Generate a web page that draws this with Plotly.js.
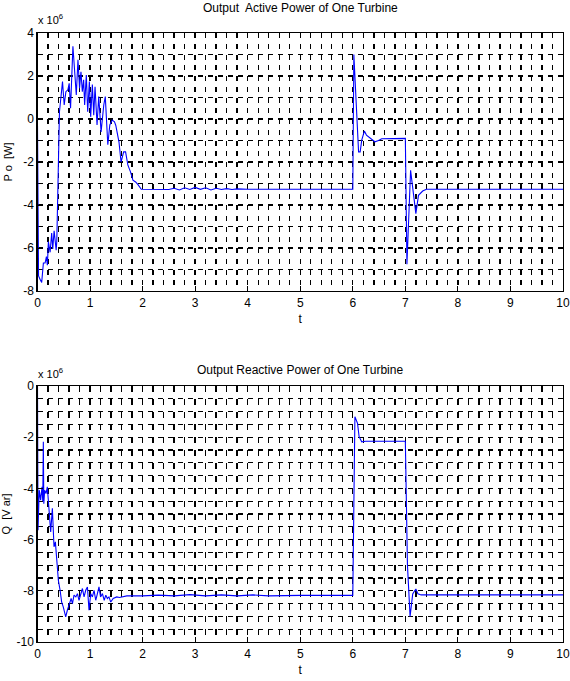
<!DOCTYPE html>
<html>
<head>
<meta charset="utf-8">
<script src="https://cdn.plot.ly/plotly-3.0.1.min.js"></script>
<style>html,body{margin:0;padding:0;background:#fff;}#chart{width:570px;height:681px;}</style>
</head>
<body>
<div id="chart"></div>
<script>
// Values are in units of 10^6 (axis multiplier "x 10^6")
var tP = [0, 0.02, 0.048, 0.08, 0.112, 0.144, 0.17, 0.188, 0.207, 0.24, 0.27, 0.29, 0.316, 0.34, 0.355, 0.367, 0.418, 0.476, 0.508, 0.54, 0.578, 0.603, 0.629, 0.674, 0.706, 0.738, 0.77, 0.8, 0.827, 0.853, 0.878, 0.897, 0.929, 0.955, 0.987, 1.012, 1.044, 1.07, 1.095, 1.133, 1.165, 1.21, 1.261, 1.29, 1.338, 1.376, 1.421, 1.465, 1.49, 1.55, 1.59, 1.64, 1.676, 1.72, 1.77, 1.816, 1.867, 1.912, 1.975, 2.2, 2.35, 2.5, 2.6, 2.7, 2.8, 2.9, 3.0, 3.1, 3.2, 3.3, 3.4, 3.5, 3.6, 3.7, 3.8, 4.0, 6.0, 6.02, 6.11, 6.14, 6.17, 6.22, 6.26, 6.33, 6.42, 6.49, 6.55, 7.0, 7.01, 7.03, 7.1, 7.2, 7.25, 7.33, 7.4, 10];
var pOut = [-0.3, -7.3, -7.45, -7.6, -6.7, -6.7, -6.4, -6.8, -5.7, -6.2, -5.3, -6.05, -5.2, -5.8, -6.1, -5.7, 0.34, 1.74, 0.65, 1.27, 1.35, 1.66, 0.5, 3.38, 2.05, 1.12, 2.75, 1.43, 2.2, 1.27, 1.82, 0.65, 2.05, 0.34, 1.74, 0.1, 1.6, 0.18, 1.5, -0.28, 1.04, -0.6, 0.65, 1.04, -1.2, -0.28, -0.05, -0.13, -0.3, -1.06, -2.0, -1.53, -1.53, -2.15, -2.46, -2.85, -2.93, -3.05, -3.27, -3.27, -3.25, -3.28, -3.22, -3.3, -3.2, -3.28, -3.18, -3.27, -3.2, -3.3, -3.22, -3.28, -3.24, -3.28, -3.25, -3.27, -3.27, 3.0, -1.53, -1.53, -0.98, -0.56, -0.75, -0.9, -1.06, -1.0, -0.92, -0.9, -3.3, -6.75, -2.39, -4.4, -3.55, -3.35, -3.27, -3.27];

var tQ = [0, 0.01, 0.033, 0.06, 0.086, 0.1, 0.111, 0.12, 0.136, 0.162, 0.187, 0.22, 0.251, 0.283, 0.314, 0.34, 0.365, 0.397, 0.43, 0.46, 0.49, 0.537, 0.568, 0.606, 0.64, 0.665, 0.695, 0.73, 0.76, 0.79, 0.82, 0.855, 0.886, 0.918, 0.95, 0.98, 1.013, 1.044, 1.076, 1.108, 1.14, 1.17, 1.2, 1.235, 1.27, 1.3, 1.33, 1.36, 1.394, 1.44, 1.508, 1.56, 1.7, 2.0, 2.3, 2.6, 2.9, 3.2, 3.5, 3.8, 4.1, 4.4, 5.0, 6.0, 6.04, 6.09, 6.12, 6.17, 6.24, 7.0, 7.04, 7.09, 7.14, 7.2, 7.24, 7.3, 10];
var qOut = [0, -5.63, -4.07, -4.46, -3.94, -4.5, -2.18, -4.6, -4.07, -4.2, -3.94, -4.9, -5.7, -4.78, -6.28, -6.09, -6.8, -7.59, -7.98, -8.44, -8.63, -9.02, -8.76, -8.5, -8.3, -8.5, -8.17, -8.24, -8.11, -8.37, -8.17, -7.91, -8.24, -7.98, -7.85, -8.76, -8.11, -8.24, -7.98, -8.37, -8.11, -7.85, -8.24, -8.11, -8.37, -8.17, -8.3, -8.24, -8.44, -8.3, -8.24, -8.26, -8.2, -8.2, -8.17, -8.2, -8.15, -8.2, -8.16, -8.2, -8.16, -8.2, -8.18, -8.18, -1.2, -1.46, -1.98, -2.18, -2.16, -2.16, -7.0, -9.0, -8.12, -7.93, -8.12, -8.16, -8.16];

var xTicks = [0, 1, 2, 3, 4, 5, 6, 7, 8, 9, 10];
var yTicksP = [-8, -6, -4, -2, 0, 2, 4];
var yTicksQ = [-10, -8, -6, -4, -2, 0];

var FONT = 'Liberation Sans Narrow, Liberation Sans, Arial, sans-serif';
var W = 570, H = 681;
var xDom = [37.5 / W, 563 / W];
var yDomP = [1 - 291 / H, 1 - 33 / H];
var yDomQ = [1 - 642 / H, 1 - 386 / H];
var GW = 1.4;

function xAxis(dash, anchor) {
  return {
    domain: xDom, anchor: anchor, range: [0, 10],
    tickvals: xTicks, ticktext: xTicks.map(String),
    ticks: 'inside', ticklen: 5, tickcolor: '#000',
    showline: true, linecolor: '#000', linewidth: 1.2, mirror: 'ticks',
    showgrid: true, gridcolor: '#000', gridwidth: GW, griddash: dash,
    minor: {dtick: 0.2, tick0: 0, showgrid: true, gridcolor: '#000', gridwidth: GW, griddash: dash, ticks: ''},
    zeroline: false,
    tickfont: {family: FONT, size: 12, color: '#000'},
    title: {text: 't', font: {family: FONT, size: 12, color: '#000'}, standoff: 6}
  };
}
function yAxis(range, vals, minorStep, dash, anchor, dom, title) {
  return {
    domain: dom, anchor: anchor, range: range,
    tickvals: vals, ticktext: vals.map(String),
    ticks: 'inside', ticklen: 5, tickcolor: '#000',
    showline: true, linecolor: '#000', linewidth: 1.2, mirror: 'ticks',
    showgrid: true, gridcolor: '#000', gridwidth: GW, griddash: dash,
    minor: {dtick: minorStep, tick0: 0, showgrid: true, gridcolor: '#000', gridwidth: GW, griddash: dash, ticks: ''},
    zeroline: false,
    tickfont: {family: FONT, size: 12, color: '#000'},
    title: {text: title, font: {family: FONT, size: 11, color: '#000'}, standoff: 8}
  };
}

var data = [
  {x: tP, y: pOut, xaxis: 'x', yaxis: 'y', type: 'scatter', mode: 'lines',
   line: {color: '#0000ff', width: 1.1}, hoverinfo: 'skip'},
  {x: tQ, y: qOut, xaxis: 'x2', yaxis: 'y2', type: 'scatter', mode: 'lines',
   line: {color: '#0000ff', width: 1.1}, hoverinfo: 'skip'}
];

var layout = {
  width: W, height: H,
  margin: {l: 0, r: 0, t: 0, b: 0},
  paper_bgcolor: '#fff', plot_bgcolor: '#fff',
  showlegend: false,
  xaxis: xAxis('5px,5.75px', 'y'),
  yaxis: yAxis([-8, 4], yTicksP, 1, '5px,5px', 'x', yDomP, 'P o  [W]'),
  xaxis2: xAxis('6px,6.8px', 'y2'),
  yaxis2: yAxis([-10, 0], yTicksQ, 0.5, '5px,5px', 'x2', yDomQ, 'Q  [V ar]'),
  annotations: [
    {text: 'Output  Active Power of One Turbine', xref: 'paper', yref: 'paper',
     x: (xDom[0] + xDom[1]) / 2, y: 1 - 8 / H, xanchor: 'center', yanchor: 'middle',
     showarrow: false, font: {family: FONT, size: 12, color: '#000'}},
    {text: 'Output Reactive Power of One Turbine', xref: 'paper', yref: 'paper',
     x: (xDom[0] + xDom[1]) / 2, y: 1 - 370 / H, xanchor: 'center', yanchor: 'middle',
     showarrow: false, font: {family: FONT, size: 12, color: '#000'}},
    {text: 'x 10<sup>6</sup>', xref: 'paper', yref: 'paper',
     x: 36 / W, y: 1 - 19 / H, xanchor: 'left', yanchor: 'middle',
     showarrow: false, font: {family: FONT, size: 11, color: '#000'}},
    {text: 'x 10<sup>6</sup>', xref: 'paper', yref: 'paper',
     x: 36 / W, y: 1 - 373 / H, xanchor: 'left', yanchor: 'middle',
     showarrow: false, font: {family: FONT, size: 11, color: '#000'}}
  ]
};

Plotly.newPlot('chart', data, layout, {staticPlot: true, displayModeBar: false});
</script>
</body>
</html>
